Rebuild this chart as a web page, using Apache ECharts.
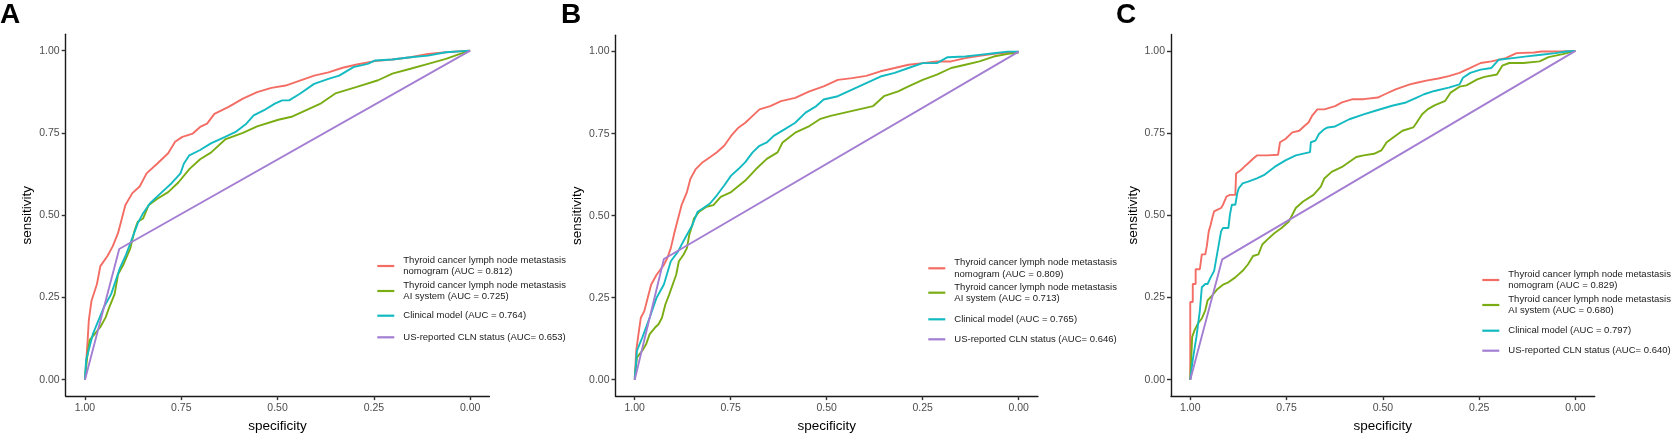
<!DOCTYPE html>
<html>
<head>
<meta charset="utf-8">
<script src="https://cdn.jsdelivr.net/npm/echarts@6/dist/echarts.min.js"></script>
<style>
html, body { margin: 0; padding: 0; background: #fff; }
#chart { width: 1674px; height: 438px; }
</style>
</head>
<body>
<div id="chart"></div>
<script>
// tick values shared by both axes of every panel
var tickValues = [0, 0.25, 0.5, 0.75, 1];
var panelLetters = ['A', 'B', 'C'];

// legend labels per panel (nomogram, AI system, clinical model, US-reported)
var labelsA = [
    'Thyroid cancer lymph node metastasis\nnomogram (AUC = 0.812)',
    'Thyroid cancer lymph node metastasis\nAI system (AUC = 0.725)',
    'Clinical model (AUC = 0.764)',
    'US-reported CLN status (AUC= 0.653)'
];
var labelsB = [
    'Thyroid cancer lymph node metastasis\nnomogram (AUC = 0.809)',
    'Thyroid cancer lymph node metastasis\nAI system (AUC = 0.713)',
    'Clinical model (AUC = 0.765)',
    'US-reported CLN status (AUC= 0.646)'
];
var labelsC = [
    'Thyroid cancer lymph node metastasis\nnomogram (AUC = 0.829)',
    'Thyroid cancer lymph node metastasis\nAI system (AUC = 0.680)',
    'Clinical model (AUC = 0.797)',
    'US-reported CLN status (AUC= 0.640)'
];

// ROC points: [specificity, sensitivity]
var rocA_nomogram = [[1,0],[0.997,0.05],[0.993,0.12],[0.99,0.18],[0.983,0.24],[0.969,0.29],[0.96,0.345],[0.942,0.375],[0.928,0.405],[0.914,0.446],[0.905,0.486],[0.895,0.531],[0.877,0.567],[0.858,0.587],[0.84,0.627],[0.812,0.657],[0.784,0.688],[0.766,0.723],[0.747,0.738],[0.72,0.748],[0.701,0.768],[0.683,0.778],[0.664,0.808],[0.627,0.829],[0.59,0.854],[0.553,0.874],[0.516,0.887],[0.479,0.894],[0.442,0.909],[0.405,0.924],[0.368,0.934],[0.331,0.948],[0.294,0.958],[0.248,0.968],[0.202,0.973],[0.155,0.98],[0.109,0.99],[0.063,0.995],[0,1]];
var rocA_ai = [[1,0],[0.995,0.06],[0.988,0.12],[0.974,0.14],[0.96,0.16],[0.946,0.19],[0.937,0.22],[0.923,0.26],[0.914,0.32],[0.9,0.35],[0.882,0.4],[0.872,0.45],[0.863,0.48],[0.849,0.49],[0.835,0.53],[0.812,0.55],[0.784,0.57],[0.757,0.6],[0.729,0.64],[0.701,0.67],[0.673,0.69],[0.636,0.73],[0.59,0.75],[0.553,0.77],[0.498,0.79],[0.461,0.8],[0.424,0.82],[0.387,0.84],[0.35,0.87],[0.294,0.89],[0.239,0.91],[0.202,0.93],[0.155,0.945],[0.109,0.96],[0.063,0.975],[0.026,0.99],[0,1]];
var rocA_clinical = [[1,0],[0.997,0.06],[0.979,0.14],[0.951,0.22],[0.932,0.26],[0.909,0.34],[0.895,0.375],[0.882,0.415],[0.863,0.475],[0.849,0.506],[0.831,0.536],[0.803,0.567],[0.775,0.597],[0.752,0.627],[0.743,0.657],[0.729,0.682],[0.701,0.698],[0.673,0.718],[0.636,0.738],[0.609,0.753],[0.581,0.778],[0.562,0.803],[0.535,0.819],[0.507,0.839],[0.488,0.849],[0.47,0.849],[0.442,0.869],[0.405,0.899],[0.368,0.914],[0.34,0.924],[0.303,0.95],[0.266,0.96],[0.248,0.97],[0.202,0.973],[0.155,0.98],[0.109,0.985],[0.063,0.995],[0,1]];
var rocA_us = [[1,0],[0.911,0.397],[0,1]];

var rocB_nomogram = [[1,0],[0.996,0.089],[0.989,0.149],[0.984,0.189],[0.975,0.209],[0.966,0.25],[0.957,0.29],[0.943,0.32],[0.924,0.35],[0.915,0.371],[0.906,0.401],[0.896,0.451],[0.887,0.491],[0.878,0.532],[0.864,0.572],[0.855,0.612],[0.841,0.642],[0.823,0.663],[0.804,0.678],[0.786,0.693],[0.767,0.713],[0.749,0.743],[0.73,0.768],[0.712,0.783],[0.693,0.804],[0.675,0.824],[0.647,0.834],[0.619,0.849],[0.582,0.859],[0.545,0.879],[0.508,0.894],[0.471,0.914],[0.434,0.919],[0.397,0.926],[0.36,0.94],[0.323,0.95],[0.287,0.96],[0.25,0.965],[0.213,0.97],[0.176,0.97],[0.139,0.98],[0.102,0.987],[0.065,0.993],[0.028,0.997],[0,1]];
var rocB_ai = [[1,0.008],[0.994,0.068],[0.98,0.089],[0.97,0.109],[0.961,0.139],[0.947,0.159],[0.938,0.169],[0.929,0.189],[0.92,0.23],[0.91,0.26],[0.901,0.29],[0.892,0.32],[0.885,0.361],[0.873,0.381],[0.864,0.401],[0.858,0.441],[0.85,0.471],[0.846,0.491],[0.832,0.512],[0.813,0.527],[0.795,0.532],[0.776,0.557],[0.749,0.572],[0.712,0.607],[0.684,0.642],[0.656,0.673],[0.628,0.693],[0.615,0.723],[0.582,0.753],[0.545,0.773],[0.518,0.794],[0.49,0.804],[0.453,0.814],[0.416,0.824],[0.379,0.834],[0.351,0.864],[0.314,0.879],[0.287,0.894],[0.25,0.914],[0.213,0.93],[0.176,0.95],[0.139,0.96],[0.102,0.97],[0.065,0.985],[0.028,0.993],[0,0.997]];
var rocB_clinical = [[1,0],[0.994,0.089],[0.98,0.129],[0.961,0.189],[0.943,0.25],[0.924,0.29],[0.906,0.361],[0.887,0.391],[0.869,0.431],[0.85,0.471],[0.836,0.512],[0.823,0.522],[0.804,0.537],[0.786,0.562],[0.767,0.592],[0.749,0.622],[0.73,0.642],[0.712,0.663],[0.693,0.693],[0.675,0.713],[0.656,0.723],[0.638,0.743],[0.61,0.763],[0.582,0.783],[0.555,0.814],[0.527,0.834],[0.508,0.854],[0.471,0.864],[0.434,0.884],[0.397,0.904],[0.36,0.924],[0.323,0.935],[0.287,0.95],[0.25,0.965],[0.213,0.965],[0.185,0.983],[0.139,0.985],[0.102,0.99],[0.065,0.995],[0.028,1],[0,1]];
var rocB_us = [[1,0],[0.924,0.368],[0,1]];

var rocC_nomogram = [[1,0],[1,0.236],[0.9935,0.236],[0.9935,0.291],[0.986,0.291],[0.986,0.336],[0.975,0.336],[0.97,0.381],[0.961,0.381],[0.957,0.406],[0.952,0.451],[0.947,0.471],[0.943,0.491],[0.938,0.512],[0.929,0.517],[0.92,0.522],[0.915,0.532],[0.906,0.557],[0.897,0.562],[0.883,0.562],[0.881,0.627],[0.869,0.637],[0.86,0.647],[0.855,0.652],[0.846,0.662],[0.837,0.672],[0.827,0.682],[0.8,0.682],[0.772,0.684],[0.767,0.722],[0.753,0.732],[0.735,0.752],[0.717,0.757],[0.703,0.772],[0.693,0.782],[0.684,0.802],[0.67,0.822],[0.652,0.822],[0.624,0.832],[0.606,0.843],[0.578,0.853],[0.55,0.853],[0.513,0.858],[0.495,0.868],[0.467,0.883],[0.43,0.898],[0.412,0.903],[0.384,0.91],[0.356,0.916],[0.329,0.923],[0.301,0.933],[0.273,0.948],[0.246,0.963],[0.218,0.968],[0.181,0.978],[0.153,0.993],[0.107,0.995],[0.089,0.998],[0.042,0.998],[0,1]];
var rocC_ai = [[1,0],[0.998,0.05],[0.995,0.13],[0.989,0.15],[0.98,0.171],[0.97,0.186],[0.961,0.211],[0.955,0.241],[0.943,0.256],[0.929,0.276],[0.915,0.289],[0.901,0.296],[0.883,0.311],[0.864,0.331],[0.85,0.351],[0.837,0.376],[0.823,0.381],[0.813,0.411],[0.8,0.426],[0.781,0.446],[0.763,0.461],[0.744,0.481],[0.726,0.522],[0.707,0.542],[0.68,0.562],[0.661,0.587],[0.652,0.612],[0.633,0.632],[0.606,0.647],[0.569,0.677],[0.55,0.682],[0.523,0.687],[0.504,0.697],[0.49,0.722],[0.467,0.742],[0.449,0.757],[0.421,0.767],[0.412,0.782],[0.398,0.807],[0.384,0.822],[0.366,0.834],[0.338,0.848],[0.324,0.873],[0.301,0.891],[0.283,0.895],[0.255,0.913],[0.236,0.921],[0.204,0.928],[0.19,0.955],[0.172,0.963],[0.135,0.963],[0.093,0.968],[0.07,0.981],[0.033,0.99],[0,1]];
var rocC_clinical = [[1,0],[0.9935,0.06],[0.984,0.13],[0.975,0.211],[0.97,0.281],[0.966,0.281],[0.961,0.291],[0.955,0.291],[0.947,0.311],[0.938,0.331],[0.929,0.391],[0.92,0.451],[0.915,0.461],[0.901,0.461],[0.897,0.502],[0.892,0.532],[0.883,0.532],[0.878,0.567],[0.874,0.582],[0.864,0.597],[0.85,0.602],[0.827,0.612],[0.809,0.622],[0.781,0.647],[0.753,0.667],[0.726,0.682],[0.689,0.692],[0.687,0.722],[0.675,0.727],[0.666,0.747],[0.652,0.762],[0.643,0.767],[0.624,0.77],[0.587,0.792],[0.55,0.807],[0.513,0.82],[0.476,0.833],[0.44,0.843],[0.412,0.858],[0.393,0.868],[0.366,0.878],[0.329,0.888],[0.301,0.898],[0.292,0.918],[0.273,0.933],[0.246,0.943],[0.218,0.948],[0.199,0.973],[0.163,0.978],[0.126,0.983],[0.089,0.988],[0.052,0.993],[0.024,0.998],[0,1]];
var rocC_us = [[1,0],[0.917,0.366],[0,1]];

var colors = ['#F36D64', '#7AAD14', '#13BAC1', '#A37ED2'];
var font = '"Liberation Sans", Arial, Helvetica, sans-serif';

// panel layout (pixels)
var panels = [
    { grid: { left: 65.7, top: 34.2, width: 423.7, height: 363.7 }, letterX: 0,
      keyX: 377.3, keyY: [266, 291, 315.7, 337.3], labels: labelsA,
      curves: [rocA_nomogram, rocA_ai, rocA_clinical, rocA_us] },
    { grid: { left: 615.5, top: 35.2, width: 422.4, height: 364.1 }, letterX: 561,
      keyX: 928.3, keyY: [268.3, 292.7, 319.3, 339.3], labels: labelsB,
      curves: [rocB_nomogram, rocB_ai, rocB_clinical, rocB_us] },
    { grid: { left: 1171, top: 34.4, width: 423.7, height: 365.5 }, letterX: 1116,
      keyX: 1482.3, keyY: [280, 305, 330.7, 350.7], labels: labelsC,
      curves: [rocC_nomogram, rocC_ai, rocC_clinical, rocC_us] }
];

var axisLine = { show: true, onZero: false, lineStyle: { color: '#1a1a1a', width: 1.4 } };
var axisTick = { show: true, length: 4, customValues: tickValues, lineStyle: { color: '#333', width: 1.4 } };

var option = {
    animation: false,
    backgroundColor: '#fff',
    title: [],
    grid: [],
    xAxis: [],
    yAxis: [],
    legend: [],
    series: []
};

panels.forEach(function (p, i) {
    option.title.push({
        text: panelLetters[i],
        left: p.letterX,
        top: 1,
        padding: 0,
        textStyle: { fontFamily: font, fontSize: 28, fontWeight: 'bold', color: '#000' }
    });
    option.grid.push(p.grid);
    option.xAxis.push({
        gridIndex: i,
        type: 'value',
        min: -0.05,
        max: 1.05,
        inverse: true,
        name: 'specificity',
        nameLocation: 'middle',
        nameGap: 22,
        nameTextStyle: { fontFamily: font, fontSize: 13.5, color: '#000' },
        axisLine: axisLine,
        axisTick: axisTick,
        splitLine: { show: false },
        axisLabel: {
            customValues: tickValues,
            margin: 7,
            fontFamily: font,
            fontSize: 10.5,
            color: '#4D4D4D',
            formatter: function (v) { return v.toFixed(2); }
        }
    });
    option.yAxis.push({
        gridIndex: i,
        type: 'value',
        min: -0.05,
        max: 1.05,
        name: 'sensitivity',
        nameLocation: 'middle',
        nameGap: 31,
        nameTextStyle: { fontFamily: font, fontSize: 13.5, color: '#000' },
        axisLine: axisLine,
        axisTick: axisTick,
        splitLine: { show: false },
        axisLabel: {
            customValues: tickValues,
            margin: 6,
            fontFamily: font,
            fontSize: 10.5,
            color: '#4D4D4D',
            formatter: function (v) { return v.toFixed(2); }
        }
    });
    p.curves.forEach(function (curve, k) {
        option.series.push({
            name: p.labels[k],
            type: 'line',
            xAxisIndex: i,
            yAxisIndex: i,
            data: curve,
            symbol: 'none',
            color: colors[k],
            lineStyle: { width: 1.9, color: colors[k] },
            z: 2 + k
        });
        var lines = p.labels[k].split('\n').length;
        option.legend.push({
            data: [p.labels[k]],
            left: p.keyX,
            top: p.keyY[k] - lines * 11.5 / 2,
            padding: 0,
            icon: 'rect',
            itemWidth: 17,
            itemHeight: 2.2,
            selectedMode: false,
            textStyle: {
                fontFamily: font,
                fontSize: 9.5,
                lineHeight: 11.5,
                color: '#1a1a1a',
                padding: [0, 0, 0, 4]
            }
        });
    });
});

var chart = echarts.init(document.getElementById('chart'));
chart.setOption(option);
</script>
</body>
</html>
